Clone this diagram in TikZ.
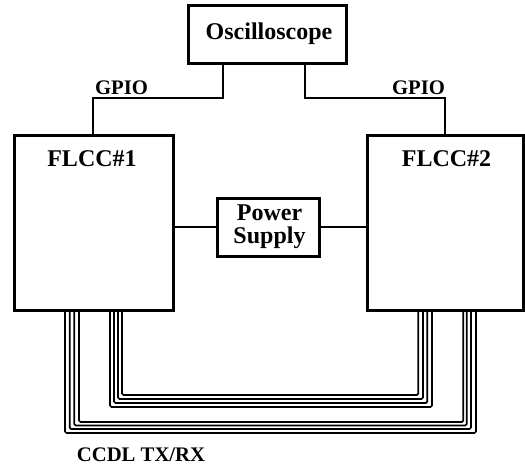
\documentclass[tikz,border=0pt]{standalone}
\usepackage{fontspec}
\setmainfont{Liberation Serif}
\begin{document}
\begin{tikzpicture}[x=1pt,y=-1pt,
  box/.style={draw, line width=3pt, inner sep=0pt},
  big/.style={font=\fontsize{24}{23}\selectfont\bfseries, align=center, inner sep=0pt},
  small/.style={font=\fontsize{20.7}{23}\selectfont\bfseries, inner sep=0pt},
  wire/.style={line width=1.2pt},
  cable/.style={line width=1.7pt, rounded corners=1.5pt}]
\useasboundingbox (0,0) rectangle (525,466);
% boxes
\node[box, minimum width=158pt, minimum height=58pt] (osc) at (267,34) {};
\node[big] (osct) at (269,34) {Oscilloscope};
\node[box, minimum width=159pt, minimum height=175pt] (fl1) at (93.5,222.5) {};
\node[big] (fl1t) at (92,159) {FLCC\#1};
\node[box, minimum width=156pt, minimum height=175pt] (fl2) at (445,222.5) {};
\node[big] (fl2t) at (446.5,159) {FLCC\#2};
\node[box, minimum width=102pt, minimum height=58pt] (ps) at (268,227) {};
\node[big] (pst) at (269.5,227) {Power\\Supply};
% labels
\node[small] (g1) at (121.5,88) {GPIO};
\node[small] (g2) at (418.5,88) {GPIO};
\node[small] (ccdl) at (141,455) {CCDL TX/RX};
% GPIO wires
\coordinate (a1) at (223,98);
\coordinate (a2) at (93,98);
\coordinate (b1) at (305,98);
\coordinate (b2) at (445,98);
\draw[wire] (osc.south -| a1) -- (a1) -- (a2) -- (fl1.north -| a2);
\draw[wire] (osc.south -| b1) -- (b1) -- (b2) -- (fl2.north -| b2);
% power wires
\draw[wire] (fl1.east |- ps.west) -- (ps.west);
\draw[wire] (ps.east) -- (fl2.west |- ps.east);
% CCDL cables
\foreach \xl/\yy/\xr in {65/433/476, 69.7/429/471, 74.3/425.5/466.7, 79/422/463.3,
                         110/407/432, 114/403/427.3, 118/399/423, 122/395/418.3}{
  \draw[cable] (fl1.south -| \xl,0) -- (\xl,\yy) -- (\xr,\yy) -- (fl2.south -| \xr,0);
}
\end{tikzpicture}
\end{document}
